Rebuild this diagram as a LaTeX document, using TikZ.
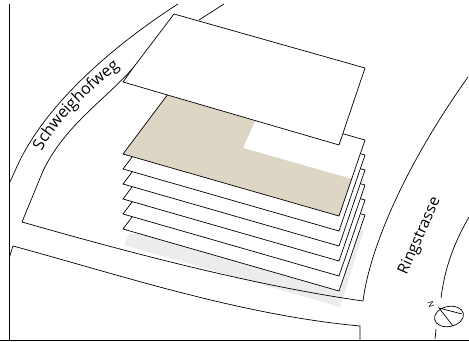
\documentclass[tikz,border=0pt]{standalone}
\usepackage{fontspec}
\setmainfont{Open Sans}
\usetikzlibrary{decorations.text}
\definecolor{beige}{HTML}{DDD6C5}
\definecolor{shadowgrey}{HTML}{ECECEC}
\tikzset{x=1pt,y=-1pt,
 ln/.style={draw=black,line width=0.7pt,line join=miter},
 heavy/.style={draw=black,line width=1pt},
 sheet/.style={ln,fill=white},
 lbl/.style={inner sep=0pt,font=\fontsize{15.5pt}{18pt}\selectfont}}
\begin{document}
\begin{tikzpicture}
\useasboundingbox (0,0) rectangle (469,342);
\fill[shadowgrey] (124,245)--(129,234)--(364,230)--(340,307)--cycle;
% roads
\draw[ln] (178,4) .. controls (125,38) and (45,100) .. (15,171) -- (9.5,183);
\draw[ln] (133,68) .. controls (105,100) and (65,125) .. (43,171) -- (22,222) .. controls (120,250) and (250,285) .. (363,301)
  .. controls (368,260) and (395,180) .. (468,77);
\draw[ln] (224,4) -- (199,20);
\draw[ln] (9.5,257) -- (13,246) .. controls (120,275) and (240,315) .. (360,326) -- (360,340);
\draw[ln] (469,217) .. controls (450,250) and (444,275) .. (441,298);
\draw[ln] (436,329) -- (435,339);
\draw[heavy] (9.5,4) -- (9.5,340);
\draw[heavy] (0,340) -- (469,340);
% sheets
\foreach \d in {75,60,45,30,15} {
 \draw[sheet,shift={(0,\d)}] (174,86)--(365,140)--(339,216)--(123,154)--cycle;
}
\fill[white] (174,86)--(365,140)--(339,216)--(123,154)--cycle;
\fill[beige] (174,86)--(255,109)--(255,121)--(243,148)--(352,179)--(339,216)--(123,154)--cycle;
\draw[ln] (174,86)--(365,140)--(339,216)--(123,154)--cycle;
% top sheet
\draw[sheet] (174,14)--(365,68)--(339,145)--(123,82)--(133,68)--cycle;
\path[postaction={decorate,decoration={text along path,text align=center,
   text={|\fontsize{16pt}{18pt}\selectfont|Schweighofweg}}}]
   (37,162) .. controls (48,132) and (85,92) .. (129,61);
\node[lbl,rotate=66] (rs) at (420,236) {Ringstrasse};
\node[font=\fontsize{8pt}{9pt}\selectfont,rotate=-72,inner sep=0pt] (n) at (431,304) {N};
\draw[ln,rotate around={12:(449,316.5)}] (449,316.5) ellipse (14.7 and 10);
\coordinate (cpa) at (439,308);
\coordinate (cpb) at (462,314);
\coordinate (cpc) at (453,326);
\draw[ln] (cpb) -- (cpa) -- (cpc);
\end{tikzpicture}
\end{document}
